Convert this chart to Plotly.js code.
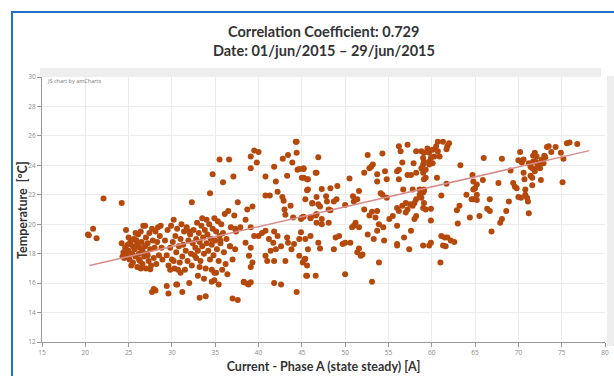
<!DOCTYPE html>
<html>
<head>
<meta charset="utf-8">
<script src="https://cdn.plot.ly/plotly-3.0.1.min.js"></script>
<style>
html,body{margin:0;padding:0;background:#fff;}
#chart{width:614px;height:376px;}
</style>
</head>
<body>
<div id="chart"></div>
<script>
// Scatter points: [current (A), temperature (°C)]
const points = [
// x 20-24.5
[20.3,19.3],[20.4,19.25],[20.9,19.7],[21.3,19.05],[22.1,21.75],[24.2,21.45],[24.2,18.7],
// x 24-29 cluster
[24.3,17.8],[24.4,18.1],[24.5,17.7],[24.6,18.4],[24.8,17.9],[24.9,18.6],[25.0,18.2],[25.1,17.6],[25.2,18.8],[25.3,17.2],
[25.4,18.0],[25.5,18.5],[25.5,17.4],[25.6,19.0],[25.7,18.3],[25.8,17.8],[25.9,18.9],[26.0,17.1],[26.0,18.6],[26.1,19.3],
[26.2,18.0],[26.3,17.5],[26.3,18.4],[26.4,19.5],[26.5,18.8],[26.6,17.3],[26.6,18.2],[26.7,19.9],[26.8,17.8],[26.9,18.5],
[27.0,19.1],[27.0,17.0],[27.1,18.0],[27.2,18.7],[27.3,17.5],[27.4,19.4],[27.5,18.3],[27.6,17.2],[27.7,19.7],[27.8,18.9],
[27.9,17.7],[28.0,18.4],[28.1,19.5],[28.2,17.3],[28.3,18.8],[28.4,19.8],[28.5,17.9],[28.6,19.2],[28.8,18.4],[28.9,17.6],
[25.0,19.1],[25.8,19.4],[26.4,17.0],[27.5,16.95],[24.7,19.6],[26.9,19.9],[25.3,18.9],[26.2,17.6],[27.2,17.9],[28.7,19.9],
[27.7,15.4],[27.9,15.6],[28.1,15.5],[29.4,15.8],[29.6,15.3],[30.5,15.9],[31.2,15.4],
// x 29-37 cluster
[29.2,18.9],[29.4,17.9],[29.5,19.6],[29.6,17.2],[29.8,18.4],[29.9,19.9],[30.0,17.6],[30.1,18.8],[30.2,20.3],[30.3,17.0],
[30.4,19.2],[30.5,18.1],[30.6,19.7],[30.7,16.9],[30.8,18.5],[30.9,17.4],[31.0,19.0],[31.1,20.0],[31.2,17.8],[31.3,18.6],
[31.4,19.5],[31.5,16.9],[31.6,18.2],[31.7,19.8],[31.8,17.5],[31.9,18.9],[32.0,16.0],[32.1,19.3],[32.2,18.0],[32.3,21.5],
[32.3,17.2],[32.4,18.7],[32.5,19.6],[32.6,17.9],[32.7,18.4],[32.8,19.0],[32.9,20.1],[33.0,16.5],[33.0,18.2],[33.1,19.4],
[33.2,18.8],[33.3,17.5],[33.4,19.9],[33.5,18.5],[33.5,20.4],[33.6,19.1],[33.7,16.3],[33.7,18.0],[33.8,19.6],[33.9,17.0],
[34.0,18.7],[34.0,20.3],[34.1,19.3],[34.2,18.2],[34.3,20.0],[34.4,22.1],[34.4,17.6],[34.5,19.0],[34.6,18.6],[34.7,23.4],
[34.7,19.7],[34.8,17.9],[34.9,20.4],[35.0,18.9],[35.1,16.7],[35.1,19.5],[35.2,18.3],[35.3,20.2],[35.4,17.5],[35.5,24.4],
[35.5,19.2],[35.6,18.7],[35.7,20.0],[35.8,16.9],[35.9,22.85],[35.9,19.4],[36.0,18.1],[36.1,20.7],[36.2,17.3],[36.3,19.0],
[36.5,20.9],[36.6,24.4],[36.7,18.5],[36.8,19.8],[37.0,17.6],[37.1,23.25],[37.2,20.6],[37.3,18.3],[37.4,19.5],[37.6,21.5],
[32.0,19.5],[33.2,17.1],[34.6,16.9],[32.8,17.7],[31.0,16.7],[35.4,15.9],[33.9,15.1],[34.9,16.2],[36.4,16.6],[30.2,17.5],
[29.8,16.9],[33.2,15.0],[37.6,14.85],[34.6,16.1],[34.9,16.7],[30.6,15.9],[38.3,16.1],[38.85,15.9],
// x 37-46
[39.1,24.6],[39.5,25.0],[40.0,24.9],[39.8,24.2],[39.1,23.8],[40.8,23.25],[41.8,23.9],[42.0,22.9],[40.8,21.95],[41.3,21.95],
[42.2,22.2],[42.8,24.45],[43.4,24.7],[43.9,24.2],[43.3,23.3],[44.3,25.6],[44.4,25.6],[44.4,24.85],[44.5,23.7],[44.7,23.75],
[45.2,23.8],[45.2,23.15],[45.7,23.05],[45.7,22.35],[45.4,21.7],[46.2,21.4],[46.6,23.5],
[42.75,21.85],[42.9,21.6],[43.0,21.0],[43.1,20.65],[43.7,21.25],[44.0,20.45],[44.9,20.35],[45.2,20.5],[46.0,20.4],[46.6,20.6],
[46.0,19.2],[38.7,21.0],[38.5,20.3],[39.1,19.8],[39.3,21.2],[40.0,19.2],[40.4,19.4],[40.8,19.55],[41.2,19.0],[41.8,19.5],
[42.2,19.2],[41.7,18.75],[42.0,18.3],[42.6,18.5],[43.3,19.1],[43.4,18.75],[43.8,18.3],[44.1,18.65],[44.7,17.85],[45.1,17.4],
[45.3,17.6],[45.6,17.2],[45.5,16.5],[45.7,18.3],[46.6,16.5],[44.7,19.0],[44.9,19.45],[44.4,15.4],[43.1,17.5],[41.8,17.5],
[41.0,17.5],[40.8,17.85],[41.4,18.2],[39.1,17.1],[39.3,17.4],[38.9,17.85],[39.1,18.4],[38.5,18.75],[39.5,19.2],[37.9,19.8],
[37.3,19.7],[36.7,18.5],[35.6,18.9],[41.8,16.0],[42.6,15.9],[39.1,16.05],[38.3,16.05],[38.7,15.95],[37.0,14.95],
// x 45-62
[46.9,24.55],[46.7,23.5],[45.2,23.75],[45.0,23.15],[45.6,23.05],[47.3,22.4],[48.3,22.45],[49.1,22.6],[50.5,23.1],[45.6,22.3],
[46.7,21.85],[47.8,21.9],[47.9,21.55],[48.7,21.55],[49.0,21.7],[46.2,21.45],[46.9,21.35],[47.1,21.2],[48.1,21.0],[48.3,20.95],
[50.0,21.3],[50.9,21.9],[51.0,21.55],[51.6,22.25],[51.4,21.7],[45.0,20.45],[46.0,20.45],[46.7,20.7],[46.7,20.1],[47.3,20.35],
[47.3,20.0],[48.1,20.1],[45.4,19.0],[46.9,18.75],[47.1,18.35],[45.4,17.65],[45.6,16.5],[48.7,18.3],[48.9,19.1],[49.3,19.2],
[49.7,18.65],[50.0,18.75],[50.6,18.75],[50.0,16.6],[50.8,19.8],[51.0,19.9],[51.2,20.1],[51.6,19.8],[51.4,18.1],[51.6,18.35],
[51.8,17.85],[52.0,17.95],[52.2,21.0],[52.6,24.7],[52.8,23.8],[53.0,23.9],[53.2,24.05],[52.2,23.5],[53.7,23.4],[53.7,22.9],
[54.1,22.1],[54.3,22.0],[53.1,20.85],[52.8,20.6],[53.7,20.9],[53.5,20.45],[53.9,20.0],[53.7,19.55],[52.6,19.3],[53.3,19.0],
[54.4,19.8],[54.5,18.9],[53.9,17.4],[53.1,16.1],[54.3,24.8],[54.6,23.6],[54.8,23.05],[54.8,21.8],[55.1,20.35],[55.5,20.55],
[56.0,21.1],[56.0,19.9],[56.0,18.65],[56.2,25.3],[56.4,24.95],[57.2,25.4],[56.6,24.2],[56.0,23.6],[56.2,23.7],[56.2,23.05],
[56.7,22.35],[57.2,23.35],[57.6,23.35],[57.8,22.35],[57.9,24.15],[58.2,24.95],[58.2,23.5],[58.2,21.7],[58.0,21.45],[56.2,20.9],
[56.6,21.25],[57.0,21.45],[57.2,21.0],[57.5,21.35],[57.8,21.25],[58.2,20.55],[58.0,20.35],[57.0,20.8],[56.8,19.1],[57.6,19.55],
[57.4,18.3],[56.0,18.55],[58.8,24.95],[59.0,24.5],[59.1,24.85],[59.5,25.15],[59.7,24.85],[60.1,25.05],[60.5,25.3],[60.7,24.95],
[60.9,24.6],[60.3,24.6],[59.9,24.5],[59.7,24.25],[60.1,24.15],[59.7,24.05],[59.1,24.25],[59.0,24.05],[58.8,23.8],[59.3,23.7],
[59.0,23.5],[59.1,23.05],[59.3,23.15],[59.1,22.35],[59.0,22.15],[58.6,22.0],[58.8,21.8],[59.1,21.45],[59.3,21.0],[59.0,21.1],
[59.1,22.25],[58.6,22.35],[59.9,21.05],[59.9,20.25],[59.9,18.75],[59.7,18.55],[59.0,18.55],[61.1,19.2],[61.5,19.1],[61.3,18.55],
[62.2,18.9],[61.0,17.4],[60.6,23.15],[61.1,21.95],[61.7,22.75],[61.3,25.6],[61.8,25.3],[62.0,25.5],[61.7,25.1],[60.7,25.6],
[62.6,18.8],[61.6,18.5],[61.8,19.1],
// x 62-78
[63.3,24.0],[62.9,20.95],[63.2,21.25],[63.0,20.05],[64.0,22.0],[64.4,20.45],[64.7,23.35],[64.8,22.9],[64.8,22.35],[65.0,22.45],
[65.2,22.7],[65.2,22.0],[64.6,21.7],[64.8,21.7],[65.2,21.65],[65.5,20.55],[65.9,23.0],[66.0,24.5],[66.4,21.05],[66.7,20.9],
[66.9,19.5],[66.7,21.7],[67.7,22.8],[67.9,20.1],[68.1,20.35],[68.1,24.45],[68.6,20.9],[68.9,21.55],[69.1,23.65],[69.4,22.8],
[69.6,22.55],[69.8,22.45],[70.0,21.85],[70.3,21.8],[70.2,24.9],[70.0,24.35],[70.4,24.2],[70.6,24.4],[70.7,23.05],[70.8,22.35],
[70.8,22.0],[71.0,21.8],[71.1,21.55],[71.2,20.75],[70.6,23.5],[71.4,23.3],[71.6,23.15],[71.6,22.65],[71.7,24.65],[71.7,24.25],
[71.9,24.85],[72.1,24.6],[72.0,24.25],[72.3,24.15],[72.5,23.8],[72.7,24.4],[72.2,23.9],[71.9,23.6],[72.4,24.05],[72.9,24.15],
[73.0,24.65],[73.3,25.25],[73.5,25.3],[73.8,24.9],[74.3,25.25],[72.6,23.0],[73.1,24.55],[74.9,24.85],[75.1,22.85],[75.2,24.45],
[75.6,25.5],[75.9,25.55],[76.8,25.45],[71.6,23.8],[71.2,24.15],[71.4,23.9]
];
const currentA = points.map(p => p[0]);
const temperatureC = points.map(p => p[1]);

// Trend line end points
const trendX = [20.5, 78.2];
const trendY = [17.2, 25.0];

const xTicks = [15,20,25,30,35,40,45,50,55,60,65,70,75,80];
const yTicks = [12,14,16,18,20,22,24,26,28,30];

const titleLines = ['Correlation Coefficient: 0.729', 'Date: 01/jun/2015 – 29/jun/2015'];
const xTitle = 'Current - Phase A (state steady) [A]';
const yTitle = 'Temperature  [ºC]';

// pixel helpers for layout decorations
const L = 42, R = 605, T = 77, B = 342;
const px = v => (v - L) / (R - L);
const py = v => (B - v) / (B - T);

const traces = [
  {
    x: currentA, y: temperatureC, type: 'scatter', mode: 'markers',
    marker: {size: 6, color: '#b5490b', line: {width: 0}},
    hoverinfo: 'x+y', showlegend: false
  },
  {
    x: trendX, y: trendY, type: 'scatter', mode: 'lines',
    line: {color: '#d98c8c', width: 1.5},
    hoverinfo: 'skip', showlegend: false
  }
];

const axisCommon = {
  showgrid: true, gridcolor: '#ececec', gridwidth: 1,
  zeroline: false, showline: true, linecolor: '#9a9a9a', linewidth: 1,
  ticks: 'outside', ticklen: 4, tickcolor: '#9a9a9a',
  tickfont: {family: 'Open Sans, sans-serif', size: 6.5, color: '#888'}
};

const boldFont = {family: 'Lato, sans-serif', size: 12.5, color: '#333', weight: 'bold'};

const layout = {
  width: 614, height: 376,
  margin: {l: L, r: 614 - R, t: T, b: 376 - B},
  paper_bgcolor: '#ffffff', plot_bgcolor: '#ffffff',
  font: {family: 'Lato, sans-serif'},
  xaxis: Object.assign({}, axisCommon, {
    range: [15, 80], tickvals: xTicks, ticktext: xTicks.map(String),
    title: {text: xTitle, standoff: 6, font: boldFont}
  }),
  yaxis: Object.assign({}, axisCommon, {
    range: [12, 30], tickvals: yTicks, ticktext: yTicks.map(String)
  }),
  annotations: [
    {text: titleLines[0], xref: 'paper', yref: 'paper', x: 0.5, y: py(31), showarrow: false,
     xanchor: 'center', yanchor: 'middle', font: {family: 'Lato, sans-serif', size: 14.5, color: '#333', weight: 'bold'}},
    {text: titleLines[1], xref: 'paper', yref: 'paper', x: 0.5, y: py(50), showarrow: false,
     xanchor: 'center', yanchor: 'middle', font: {family: 'Lato, sans-serif', size: 14.5, color: '#333', weight: 'bold'}},
    {text: yTitle, xref: 'paper', yref: 'paper', x: px(22), y: py(210), showarrow: false, textangle: -90,
     xanchor: 'center', yanchor: 'middle', font: boldFont},
    {text: 'JS chart by amCharts', xref: 'paper', yref: 'paper', x: px(45), y: py(81), showarrow: false,
     xanchor: 'left', yanchor: 'middle', font: {family: 'Open Sans, sans-serif', size: 5.5, color: '#777'}}
  ],
  shapes: [
    {type: 'rect', xref: 'paper', yref: 'paper', x0: px(40), x1: px(601), y0: py(77), y1: py(68),
     fillcolor: '#eeeeee', line: {width: 0}, layer: 'below'},
    {type: 'rect', xref: 'paper', yref: 'paper', x0: px(607), x1: px(616), y0: py(346), y1: py(76),
     fillcolor: '#eeeeee', line: {width: 0}, layer: 'below'},
    {type: 'line', xref: 'paper', yref: 'paper', x0: px(11), x1: px(616), y0: py(12), y1: py(12),
     line: {color: '#1f73c6', width: 2}},
    {type: 'line', xref: 'paper', yref: 'paper', x0: px(12), x1: px(12), y0: py(12), y1: py(378),
     line: {color: '#1f73c6', width: 2}}
  ]
};

Plotly.newPlot('chart', traces, layout, {displayModeBar: false, staticPlot: true});
</script>
</body>
</html>
